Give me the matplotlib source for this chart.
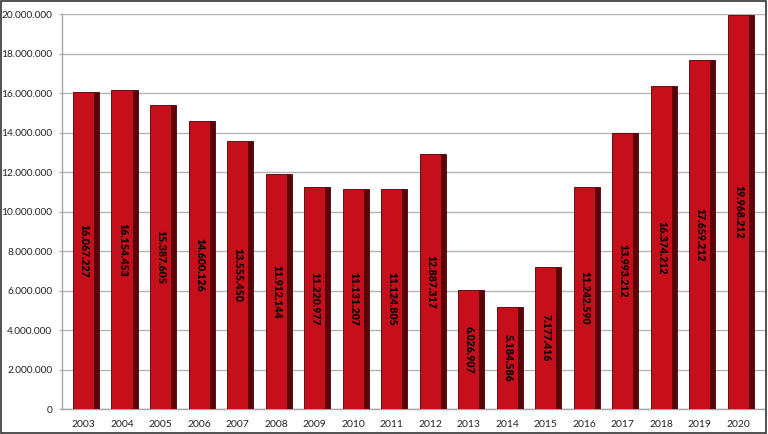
import matplotlib.pyplot as plt
from matplotlib.patches import Rectangle

# yearly totals
years = ['2003', '2004', '2005', '2006', '2007', '2008', '2009', '2010', '2011',
         '2012', '2013', '2014', '2015', '2016', '2017', '2018', '2019', '2020']
values = [16067227, 16154453, 15387605, 14600126, 13555450, 11912144, 11220977,
          11131207, 11124805, 12887317, 6026907, 5184586, 7177416, 11242590,
          13993212, 16374212, 17659212, 19968212]
yticks = list(range(0, 20000001, 2000000))


def dotted(n):
    return f'{n:,}'.replace(',', '.')


face = '#c70f1b'
side = '#5c0309'
edge = '#4a0006'
text_font = ['Lato', 'DejaVu Sans']

fig = plt.figure(figsize=(7.68, 4.34), dpi=100)
ax = fig.add_axes([0.0807, 0.0576, 0.916, 0.9101])

w = 0.546
depth = 0.13
for i, v in enumerate(values):
    # front face plus a dark side strip to mimic the 3D look
    ax.add_patch(Rectangle((i + w / 2, 0), depth, v, facecolor=side,
                           edgecolor=edge, linewidth=0.6, zorder=3))
    ax.bar(i, v, width=w, color=face, edgecolor=edge, linewidth=0.6, zorder=4)
    ax.text(i + 0.02, v / 2, dotted(v), rotation=270, ha='center', va='center',
            fontsize=7.6, fontweight='heavy', color='#0a0000', family=text_font,
            zorder=5)

ax.set_xlim(-0.559, 17.71)
ax.set_ylim(0, 20000000)
ax.set_xticks(range(len(years)))
ax.set_xticklabels(years, fontsize=7.5, family=text_font, color='#222222')
ax.set_yticks(yticks)
ax.set_yticklabels([dotted(t) for t in yticks], fontsize=7.3, family=text_font,
                   color='#222222')
ax.tick_params(axis='x', length=0, pad=8)
ax.tick_params(axis='y', length=2, color='#a6a6a6', pad=5)
ax.grid(axis='y', color='#b3b3b3', linewidth=1, zorder=0)
ax.set_axisbelow(True)
for s in ['top', 'right']:
    ax.spines[s].set_visible(False)
for s in ['left', 'bottom']:
    ax.spines[s].set_color('#a6a6a6')
    ax.spines[s].set_linewidth(1)

# thin dark frame around the whole picture
fig.patches.append(Rectangle((0.001, 0.002), 0.997, 0.995, transform=fig.transFigure,
                             fill=False, edgecolor='#333333', linewidth=1.2))

fig.savefig('out.png', dpi=100)
